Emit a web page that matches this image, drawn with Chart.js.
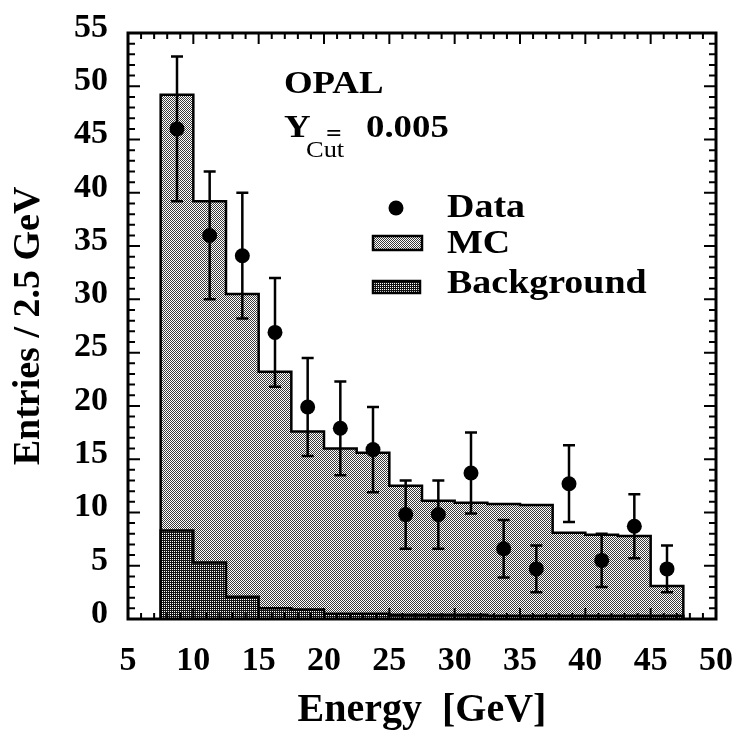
<!DOCTYPE html>
<html>
<head>
<meta charset="utf-8">
<script src="https://cdn.jsdelivr.net/npm/chart.js@4.4.1/dist/chart.umd.min.js"></script>
<style>
  html, body { margin: 0; padding: 0; background: #fff; }
  #wrap { width: 738px; height: 740px; }
</style>
</head>
<body>
<div id="wrap"><canvas id="chart" width="738" height="740"></canvas></div>
<script>
/* ── Data ── */
const BIN_EDGES   = [7.5, 10, 12.5, 15, 17.5, 20, 22.5, 25, 27.5, 30, 32.5, 35, 37.5, 40, 42.5, 45, 47.5];
const MC_VALUES   = [49.2, 39.2, 30.5, 23.2, 17.6, 16.0, 15.6, 12.5, 11.1, 10.9, 10.8, 10.7, 8.1, 7.9, 7.8, 3.1];
const BKG_VALUES  = [8.3, 5.3, 2.1, 1.0, 0.9, 0.5, 0.5, 0.4, 0.4, 0.4, 0.3, 0.3, 0.3, 0.3, 0.3, 0.3];
const DATA_VALUES = [46, 36, 34.1, 26.9, 19.9, 17.9, 15.9, 9.8, 9.8, 13.7, 6.6, 4.7, 12.7, 5.5, 8.7, 4.7];
const DATA_ERRORS = [6.8, 6.0, 5.9, 5.1, 4.6, 4.4, 4.0, 3.2, 3.2, 3.8, 2.7, 2.2, 3.6, 2.5, 3.0, 2.2];
const X_TICKS     = [5, 10, 15, 20, 25, 30, 35, 40, 45, 50];
const Y_TICKS     = [0, 5, 10, 15, 20, 25, 30, 35, 40, 45, 50, 55];

/* ── Styles ── */
const SERIF = '"Liberation Serif", "Times New Roman", serif';
const BLACK = '#000';
const TEXT_STRETCH = 1.15;   // the scanned type is a bit wide

/* ── Dot textures like the old print ── */
function makePattern(size, dark, cells) {
  const c = document.createElement('canvas');
  c.width = c.height = size;
  const g = c.getContext('2d');
  g.fillStyle = '#fff';
  g.fillRect(0, 0, size, size);
  g.fillStyle = dark;
  cells.forEach(([i, j]) => g.fillRect(i, j, 1, 1));
  return g.createPattern(c, 'repeat');
}
const ctx = document.getElementById('chart').getContext('2d');
const MC_FILL  = makePattern(2, '#3a3a3a', [[0, 0], [1, 1]]);
const BKG_FILL = makePattern(2, '#141414', [[0, 0], [1, 1], [1, 0]]);

/* ── Histogram outline: points at bin left edges, stepped ── */
function histPoints(values) {
  const pts = [{ x: BIN_EDGES[0], y: 0 }];
  values.forEach((v, i) => pts.push({ x: BIN_EDGES[i], y: v }));
  const last = BIN_EDGES[BIN_EDGES.length - 1];
  pts.push({ x: last, y: values[values.length - 1] });
  pts.push({ x: last, y: 0 });
  return pts;
}

const dataPoints = DATA_VALUES.map((v, i) => ({
  x: (BIN_EDGES[i] + BIN_EDGES[i + 1]) / 2, y: v, err: DATA_ERRORS[i],
}));

/* ── Error bars ── */
const errorBars = {
  id: 'errorBars',
  afterDatasetsDraw(chart) {
    const { ctx, scales: { x, y } } = chart;
    ctx.save();
    ctx.strokeStyle = BLACK;
    ctx.lineWidth = 2.5;
    dataPoints.forEach(p => {
      const px = x.getPixelForValue(p.x);
      const top = y.getPixelForValue(p.y + p.err);
      const bot = y.getPixelForValue(p.y - p.err);
      ctx.beginPath();
      ctx.moveTo(px, top); ctx.lineTo(px, bot);
      ctx.moveTo(px - 6, top); ctx.lineTo(px + 6, top);
      ctx.moveTo(px - 6, bot); ctx.lineTo(px + 6, bot);
      ctx.stroke();
    });
    ctx.restore();
  },
};

/* ── Frame with inward ticks on all four sides ── */
const frameTicks = {
  id: 'frameTicks',
  afterDraw(chart) {
    const { ctx, chartArea: a, scales: { x, y } } = chart;
    ctx.save();
    ctx.strokeStyle = BLACK;
    ctx.lineWidth = 2;
    ctx.beginPath();
    for (let v = X_TICKS[0]; v <= X_TICKS[X_TICKS.length - 1]; v++) {
      const px = x.getPixelForValue(v);
      const len = v % 5 === 0 ? 11 : 6;
      ctx.moveTo(px, a.bottom); ctx.lineTo(px, a.bottom - len);
      ctx.moveTo(px, a.top);    ctx.lineTo(px, a.top + len);
    }
    for (let v = Y_TICKS[0]; v <= Y_TICKS[Y_TICKS.length - 1]; v++) {
      const py = y.getPixelForValue(v);
      const len = v % 5 === 0 ? 12 : 7;
      ctx.moveTo(a.left, py);  ctx.lineTo(a.left + len, py);
      ctx.moveTo(a.right, py); ctx.lineTo(a.right - len, py);
    }
    ctx.stroke();
    ctx.lineWidth = 3;
    ctx.strokeRect(a.left, a.top, a.right - a.left, a.bottom - a.top);
    ctx.restore();
  },
};

/* ── Labels and legend inside the frame ── */
function wideText(ctx, text, x, y, font) {
  ctx.save();
  ctx.font = font;
  ctx.translate(x, y);
  ctx.scale(TEXT_STRETCH, 1);
  ctx.fillText(text, 0, 0);
  ctx.restore();
}

const annotations = {
  id: 'annotations',
  afterDraw(chart) {
    const { ctx } = chart;
    ctx.save();
    ctx.fillStyle = BLACK;
    ctx.textBaseline = 'alphabetic';
    ctx.textAlign = 'left';

    wideText(ctx, 'OPAL',  284, 93,  `bold 32px ${SERIF}`);
    wideText(ctx, 'Y',     284, 137, `bold 32px ${SERIF}`);
    wideText(ctx, 'Cut',   306, 157, `23px ${SERIF}`);
    wideText(ctx, '=',     326, 141, `bold 24px ${SERIF}`);
    wideText(ctx, '0.005', 366, 137, `bold 32px ${SERIF}`);

    // legend
    ctx.beginPath();
    ctx.arc(396, 208, 7.5, 0, Math.PI * 2);
    ctx.fill();
    ctx.fillStyle = MC_FILL;
    ctx.fillRect(373, 236, 49, 14);
    ctx.fillStyle = BKG_FILL;
    ctx.fillRect(373, 281, 47, 12);
    ctx.strokeStyle = BLACK;
    ctx.lineWidth = 2.5;
    ctx.strokeRect(373, 236, 49, 14);
    ctx.strokeRect(373, 281, 47, 12);

    ctx.fillStyle = BLACK;
    wideText(ctx, 'Data',       447, 217, `bold 33px ${SERIF}`);
    wideText(ctx, 'MC',         447, 253, `bold 33px ${SERIF}`);
    wideText(ctx, 'Background', 447, 293, `bold 33px ${SERIF}`);
    ctx.restore();
  },
};

new Chart(ctx, {
  type: 'line',
  data: {
    datasets: [
      {
        label:           'Data',
        data:            dataPoints,
        showLine:        false,
        pointRadius:     7.5,
        pointBackgroundColor: BLACK,
        pointBorderColor:     BLACK,
        pointBorderWidth:     0,
      },
      {
        label:           'Background',
        data:            histPoints(BKG_VALUES),
        stepped:         true,
        fill:            'origin',
        backgroundColor: BKG_FILL,
        borderColor:     BLACK,
        borderWidth:     2.5,
        pointRadius:     0,
      },
      {
        label:           'MC',
        data:            histPoints(MC_VALUES),
        stepped:         true,
        fill:            'origin',
        backgroundColor: MC_FILL,
        borderColor:     BLACK,
        borderWidth:     2.5,
        pointRadius:     0,
      },
    ],
  },
  options: {
    responsive:  false,
    animation:   false,
    devicePixelRatio: 1,
    layout: { padding: { top: 33, right: 22, left: 0, bottom: 0 } },
    plugins: {
      legend:  { display: false },
      tooltip: { enabled: false },
    },
    scales: {
      x: {
        type: 'linear',
        min:  X_TICKS[0],
        max:  X_TICKS[X_TICKS.length - 1],
        afterBuildTicks: s => { s.ticks = X_TICKS.map(v => ({ value: v })); },
        afterFit: s => {
          s.height = 121;
          s.paddingLeft = 0;
          s.paddingRight = 0;
        },
        grid:   { display: false, drawTicks: false },
        border: { display: false },
        ticks:  {
          color: BLACK, padding: 22, maxRotation: 0,
          font: { family: SERIF, weight: 'bold', size: 34 },
        },
        title: {
          display: true,
          text:    'Energy  [GeV]',
          color:   BLACK,
          font:    { family: SERIF, weight: 'bold', size: 40 },
          padding: { top: 0, bottom: 5 },
        },
      },
      y: {
        type: 'linear',
        min:  Y_TICKS[0],
        max:  Y_TICKS[Y_TICKS.length - 1],
        afterBuildTicks: s => { s.ticks = Y_TICKS.map(v => ({ value: v })); },
        afterFit: s => {
          s.width = 128;
          s.paddingTop = 0;
          s.paddingBottom = 0;
        },
        grid:   { display: false, drawTicks: false },
        border: { display: false },
        ticks:  {
          color: BLACK, padding: 20, labelOffset: -5,
          font: { family: SERIF, weight: 'bold', size: 34 },
        },
        title: {
          display: true,
          text:    'Entries / 2.5 GeV',
          color:   BLACK,
          font:    { family: SERIF, weight: 'bold', size: 38 },
          padding: { top: 6, bottom: 0 },
        },
      },
    },
  },
  plugins: [errorBars, frameTicks, annotations],
});
</script>
</body>
</html>
